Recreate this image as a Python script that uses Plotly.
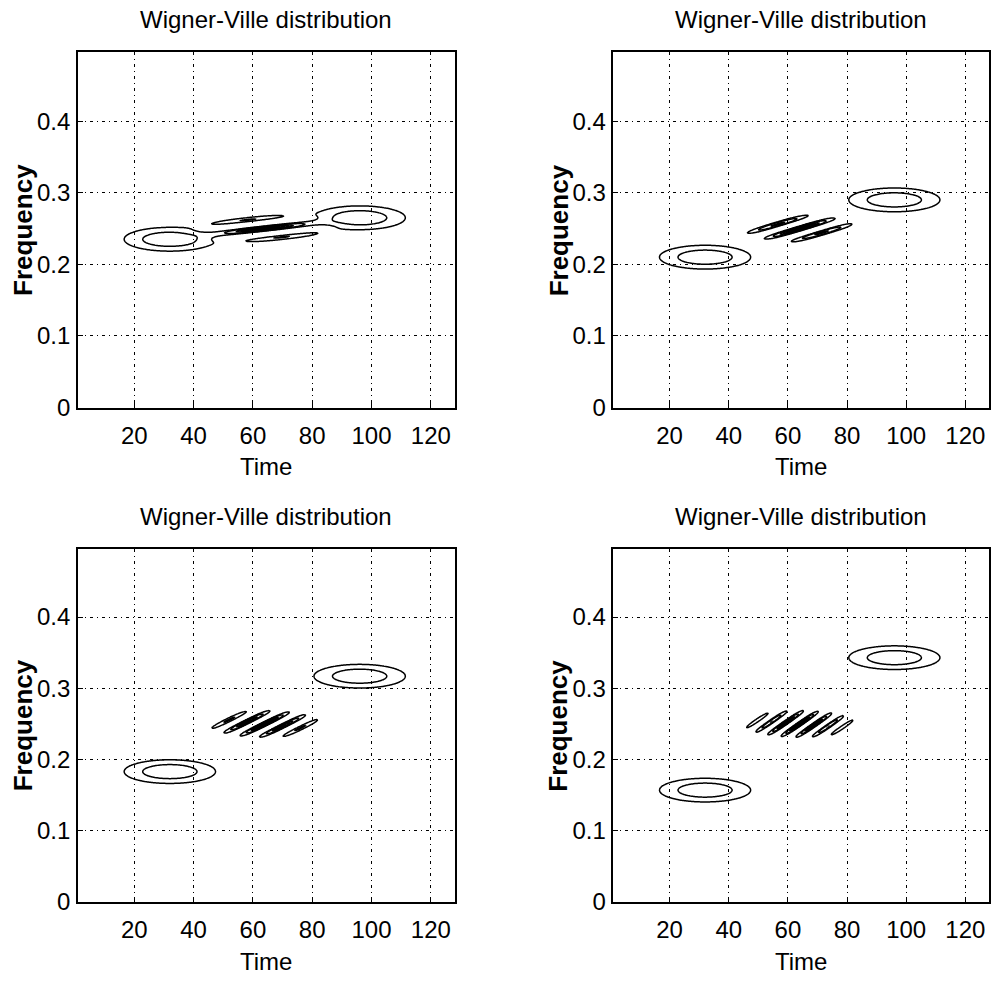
import numpy as np
import plotly.graph_objects as go

# ---------------- data ----------------
atom_times = [32, 96]                      # time centres of the two Gaussian atoms
f_low = [0.235, 0.21, 0.183, 0.157]        # frequency of first atom, per panel
f_high = [0.265, 0.29, 0.317, 0.343]       # frequency of second atom, per panel
sigma_t = 12.8                             # time spread of the WVD terms
sigma_f = 0.0138                           # frequency spread of the auto terms
sigma_f_cross = 0.0128                     # frequency spread of the cross term
low_levels = (0.235, 0.60, 0.365)          # start, end, step (auto + cross terms)
high_levels = (1.04, 1.84, 0.20)           # start, end, step (cross terms only)

x_ticks = [20, 40, 60, 80, 100, 120]
y_ticks = [0, 0.1, 0.2, 0.3, 0.4]
y_tick_text = ["0", "0.1", "0.2", "0.3", "0.4"]
title_text = "Wigner-Ville distribution"
x_title = "Time"
y_title = "Frequency"
x_range = [1, 128]
y_range = [0, 127 / 256]

# ---------------- WVD of two Gaussian atoms ----------------
t = np.arange(1, 128.001, 0.4)
f = np.arange(0.08, 0.42, 0.0008)
T, F = np.meshgrid(t, f)


def wvd(f1, f2):
    t1, t2 = atom_times
    def g(tc, fc, sf):
        return np.exp(-((T - tc) / sigma_t) ** 2 - ((F - fc) / sf) ** 2)
    tm, fm = (t1 + t2) / 2, (f1 + f2) / 2
    dt, df = t2 - t1, f2 - f1
    cross = 2 * g(tm, fm, sigma_f_cross) * np.cos(2 * np.pi * (F * dt - df * (T - tm)))
    return (g(t1, f1, sigma_f) + g(t2, f2, sigma_f) + cross).astype(np.float32)


W, H = 991, 984
# axes boxes in pixels: (left, right, top, bottom)
boxes = [(78, 455, 53, 413), (614, 990, 53, 413),
         (78, 455, 556, 914), (614, 990, 556, 914)]

FONT = "Liberation Sans, Arial, sans-serif"
fig = go.Figure()
annotations = []

for i, (l, r, tp, b) in enumerate(boxes):
    k = "" if i == 0 else str(i + 1)
    z = wvd(f_low[i], f_high[i])
    for (s0, s1, ds) in (low_levels, high_levels):
        fig.add_trace(go.Contour(
            x=t.astype(np.float32), y=f.astype(np.float32), z=z,
            xaxis="x" + k, yaxis="y" + k,
            contours=dict(coloring="lines", start=s0, end=s1 + 1e-6, size=ds),
            colorscale=[[0, "black"], [1, "black"]],
            line=dict(width=1.5, color="black"),
            showscale=False, hoverinfo="skip",
        ))
    axis_common = dict(showline=True, mirror=True, linecolor="black", linewidth=1.5,
                       showgrid=True, gridcolor="black", gridwidth=1,
                       griddash="3px,4px,1px,4px", zeroline=False,
                       ticks="inside", ticklen=5, tickcolor="black",
                       tickfont=dict(family=FONT, size=24, color="black"))
    fig.layout["xaxis" + k] = dict(axis_common, domain=[l / W, r / W], range=x_range,
                                   tickvals=x_ticks, anchor="y" + k,
                                   ticklabelstandoff=6)
    fig.layout["yaxis" + k] = dict(axis_common, domain=[1 - b / H, 1 - tp / H], range=y_range,
                                   tickvals=y_ticks, ticktext=y_tick_text, anchor="x" + k,
                                   ticklabelstandoff=1)
    cx = (l + r) / 2
    annotations.append(dict(text=title_text, x=cx / W, y=1 - (tp - 33) / H,
                            xref="paper", yref="paper", showarrow=False,
                            xanchor="center", yanchor="middle",
                            font=dict(family=FONT, size=24, color="black")))
    annotations.append(dict(text=x_title, x=cx / W, y=1 - (b + 60) / H,
                            xref="paper", yref="paper", showarrow=False,
                            xanchor="center", yanchor="middle",
                            font=dict(family=FONT, size=24, color="black")))
    annotations.append(dict(text="<b>" + y_title + "</b>", x=(l - 55) / W, y=1 - ((tp + b) / 2) / H,
                            xref="paper", yref="paper", showarrow=False, textangle=-90,
                            xanchor="center", yanchor="middle",
                            font=dict(family=FONT, size=26, color="black")))

fig.update_layout(width=W, height=H, margin=dict(l=0, r=0, t=0, b=0),
                  paper_bgcolor="white", plot_bgcolor="white",
                  showlegend=False, annotations=annotations)
fig.write_html("out.html")
